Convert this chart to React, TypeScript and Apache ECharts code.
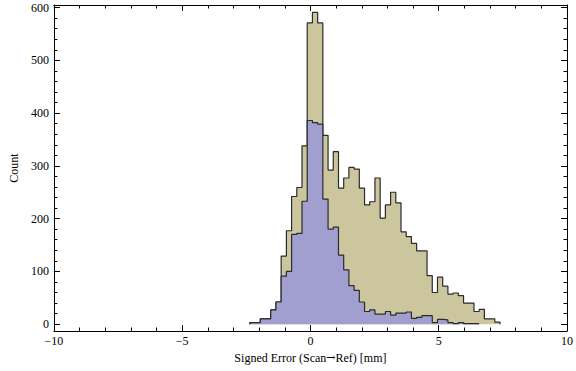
import React, { useEffect, useRef } from "react";
import * as echarts from "echarts";

// Histogram bins (left edge of first bin, bin width), in mm
const binStart = -2.36;
const binWidth = 0.2031;

// Counts per bin
const tanCounts = [
  3, 3, 10, 10, 27, 42, 129, 177, 242, 259,
  338, 571, 591, 571, 358, 292, 327, 258, 277, 297,
  294, 258, 226, 232, 277, 201, 226, 250, 230, 175,
  166, 153, 139, 139, 92, 60, 89, 72, 57, 59,
  54, 40, 40, 24, 28, 10, 10, 4,
];
const blueCounts = [
  3, 3, 10, 10, 27, 42, 91, 100, 170, 172,
  233, 386, 382, 379, 237, 180, 184, 131, 103, 73,
  64, 42, 24, 27, 19, 19, 24, 17, 21, 21,
  23, 11, 13, 16, 16, 3, 9, 8, 3, 1,
  3, 1, 1, 1,
];

// Axis ticks
const xMajorTicks = [-10, -5, 0, 5, 10];
const xMinorTicks = [-10, -9, -8, -7, -6, -5, -4, -3, -2, -1, 0, 1, 2, 3, 4, 5, 6, 7, 8, 9, 10];
const yMajorTicks = [0, 100, 200, 300, 400, 500, 600];
const yMinorTicks = Array.from({ length: 31 }, (_, i) => i * 20);

const xTitleParts = ["Signed Error (Scan", "\u2192", "Ref) [mm]"];
const yTitle = "Count";

const TAN = "#CCC69F";
const BLUE = "#A19FCF";
const EDGE = "#2b2b2b";
const FONT = "Liberation Serif";
const FS = 12;

function stepData(counts: number[]) {
  const pts: number[][] = [[binStart, 0]];
  counts.forEach((c, k) => pts.push([binStart + k * binWidth, c]));
  const end = binStart + counts.length * binWidth;
  pts.push([end, counts[counts.length - 1]]);
  pts.push([end, 0]);
  return pts;
}

const fmt = (v: number) => String(v).replace("-", "\u2212");

function xAxisDef(position: "top" | "bottom", ticks: number[], len: number, showLine: boolean, labels: boolean, withName?: boolean) {
  return {
    type: "value",
    min: -10,
    max: 10,
    position,
    axisLine: { show: showLine, onZero: false, lineStyle: { color: "#000", width: 1 } },
    axisTick: { show: true, inside: true, length: len, customValues: ticks, lineStyle: { color: "#000", width: 1 } },
    axisLabel: labels
      ? { show: true, customValues: ticks, formatter: fmt, color: "#000", fontFamily: FONT, fontSize: FS, margin: 4 }
      : { show: false },
    splitLine: { show: false },
    ...(withName
      ? {
          name: `{a|${xTitleParts[0]}}{b|${xTitleParts[1]}}{a|${xTitleParts[2]}}`,
          nameLocation: "middle",
          nameGap: 20,
          nameTextStyle: {
            color: "#000",
            fontFamily: FONT,
            fontSize: FS,
            rich: {
              a: { color: "#000", fontFamily: FONT, fontSize: FS },
              b: { color: "#000", fontFamily: "DejaVu Serif", fontSize: FS - 1 },
            },
          },
        }
      : {}),
  };
}

function yAxisDef(position: "left" | "right", ticks: number[], len: number, showLine: boolean, labels: boolean, name?: string) {
  return {
    type: "value",
    min: -13,
    max: 605,
    position,
    axisLine: { show: showLine, onZero: false, lineStyle: { color: "#000", width: 1 } },
    axisTick: { show: true, inside: true, length: len, customValues: ticks, lineStyle: { color: "#000", width: 1 } },
    axisLabel: labels
      ? { show: true, customValues: ticks, formatter: fmt, color: "#000", fontFamily: FONT, fontSize: FS, margin: 5 }
      : { show: false },
    splitLine: { show: false },
    ...(name
      ? { name, nameLocation: "middle", nameGap: 27, nameRotate: 90, nameTextStyle: { color: "#000", fontFamily: FONT, fontSize: FS } }
      : {}),
  };
}

export default function App() {
  const ref = useRef<HTMLDivElement>(null);
  useEffect(() => {
    document.body.style.margin = "0";
    const chart = echarts.init(ref.current!, null, { renderer: "svg" });
    chart.setOption({
      animation: false,
      backgroundColor: "#fff",
      grid: { left: 42, right: 8, top: 5, bottom: 40, containLabel: false },
      xAxis: [
        xAxisDef("bottom", xMajorTicks, 6, true, true, true),
        xAxisDef("bottom", xMinorTicks, 3.5, false, false),
        xAxisDef("top", xMajorTicks, 6, true, false),
        xAxisDef("top", xMinorTicks, 3.5, false, false),
      ],
      yAxis: [
        yAxisDef("left", yMajorTicks, 6, true, true, yTitle),
        yAxisDef("left", yMinorTicks, 3.5, false, false),
        yAxisDef("right", yMajorTicks, 6, true, false),
        yAxisDef("right", yMinorTicks, 3.5, false, false),
      ],
      series: [
        {
          type: "line",
          step: "end",
          xAxisIndex: 0,
          yAxisIndex: 0,
          data: stepData(tanCounts),
          symbol: "none",
          lineStyle: { color: EDGE, width: 1.2 },
          areaStyle: { color: TAN, opacity: 1 },
          z: 2,
        },
        {
          type: "line",
          step: "end",
          xAxisIndex: 0,
          yAxisIndex: 0,
          data: stepData(blueCounts),
          symbol: "none",
          lineStyle: { color: EDGE, width: 1.2 },
          areaStyle: { color: BLUE, opacity: 1 },
          z: 3,
        },
      ],
    });
    return () => chart.dispose();
  }, []);
  return <div ref={ref} style={{ position: "absolute", left: 0, top: 0, width: 576, height: 371 }} />;
}
